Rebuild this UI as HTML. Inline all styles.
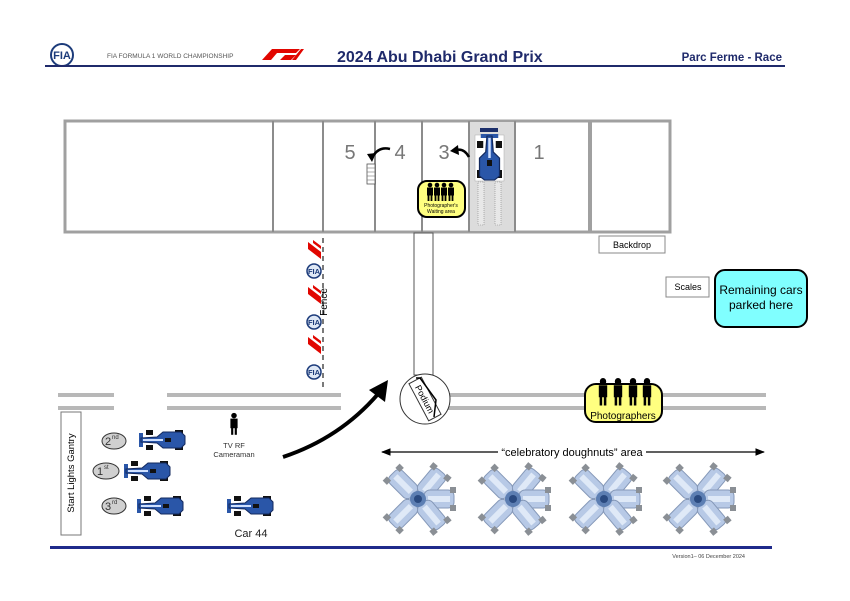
<!DOCTYPE html>
<html><head><meta charset="utf-8"><style>
html,body{margin:0;padding:0;background:#fff;width:850px;height:601px;overflow:hidden}
svg{display:block;font-family:"Liberation Sans",sans-serif}
</style></head><body>
<svg width="850" height="601" viewBox="0 0 850 601" xmlns="http://www.w3.org/2000/svg">
<defs>
<g id="car">
<rect x="-17" y="-10" width="7" height="5" fill="#111"/>
<rect x="-17" y="5" width="7" height="5" fill="#111"/>
<rect x="12" y="-10" width="8" height="5" fill="#111"/>
<rect x="12" y="5" width="8" height="5" fill="#111"/>
<rect x="-24" y="-7" width="4" height="14" fill="#2a56a8"/>
<path d="M-22,-2 L-6,-3 L0,-8 L18,-8 L22,-4 L22,4 L18,8 L0,8 L-6,3 L-22,2 Z" fill="#2a56a8" stroke="#13295e" stroke-width="1"/>
<rect x="-20" y="-1" width="20" height="2" fill="#cfe0ff"/>
<rect x="2" y="-2" width="6" height="4" fill="#111"/>
</g>
<g id="lcar">
<rect x="-4" y="-26" width="8" height="10" rx="2" fill="#8a949e"/>
<rect x="-9" y="-36" width="18" height="30" rx="6" fill="#b7c9e6" stroke="#8598b8" stroke-width="1"/>
<rect x="-3" y="-32" width="6" height="22" fill="#dfe9f7"/>
<rect x="-12" y="-38" width="6" height="6" fill="#8a8f95"/>
<rect x="6" y="-38" width="6" height="6" fill="#8a8f95"/>
</g>
<g id="dn">
<use href="#lcar" transform="rotate(-45)"/>
<use href="#lcar" transform="rotate(40)"/>
<use href="#lcar" transform="rotate(90)"/>
<use href="#lcar" transform="rotate(140)"/>
<use href="#lcar" transform="rotate(-135)"/>
<circle r="8" fill="#5d7fb3"/><circle r="4" fill="#2a4a80"/>
</g>
<g id="man"><circle cx="0" cy="-7" r="2.3" fill="#000"/><rect x="-3" y="-4.5" width="6" height="8" fill="#000"/><rect x="-2.4" y="3" width="1.8" height="6" fill="#000"/><rect x="0.6" y="3" width="1.8" height="6" fill="#000"/></g>
<g id="fia"><circle r="7" fill="#dfe8f5" stroke="#1c3b7a" stroke-width="1.5"/><text x="0" y="3" font-size="7.5" font-weight="bold" fill="#1c3b7a" text-anchor="middle">FIA</text></g>
<g id="f1"><path d="M-7,6 L3,-7 L10,-7 L0,6 Z M3,6 L9,-2 L12,-2 L6,6Z" fill="#e10600"/></g>
<marker id="ah" viewBox="0 0 10 10" refX="9" refY="5" markerWidth="8" markerHeight="8" orient="auto-start-reverse"><path d="M0,1 L10,5 L0,9 Z" fill="#000"/></marker>
</defs>

<!-- header -->
<circle cx="62" cy="55" r="11" fill="#fff" stroke="#1c3b7a" stroke-width="2"/>
<text x="62" y="59" font-size="11" font-weight="bold" fill="#1c3b7a" text-anchor="middle">FIA</text>
<text x="107" y="58" font-size="6.5" fill="#555">FIA FORMULA 1 WORLD CHAMPIONSHIP</text>
<path d="M262,60 L272,49 L300,49 L296,53 L277,53 L271,60 Z M280,60 L285,55 L296,55 L291,60Z M292,60 L301,49 L304,49 L296,60Z" fill="#e10600"/>
<text x="337" y="62" font-size="16" font-weight="bold" fill="#1f2a6b">2024 Abu Dhabi Grand Prix</text>
<text x="782" y="61" font-size="11.5" font-weight="bold" fill="#1f2a6b" text-anchor="end">Parc Ferme - Race</text>
<rect x="45" y="65" width="740" height="2" fill="#1f2a6b"/>

<!-- building -->
<rect x="65" y="121" width="605" height="111" fill="#fff" stroke="#a0a0a0" stroke-width="3"/>
<rect x="469" y="122" width="46" height="109" fill="#dcdcdc"/>
<g stroke="#8c8c8c" stroke-width="2">
<line x1="273" y1="121" x2="273" y2="232"/><line x1="323" y1="121" x2="323" y2="232"/>
<line x1="375" y1="121" x2="375" y2="232"/><line x1="422" y1="121" x2="422" y2="232"/>
<line x1="469" y1="121" x2="469" y2="232"/><line x1="515" y1="121" x2="515" y2="232"/>
</g>
<rect x="588" y="121" width="4" height="111" fill="#a0a0a0"/>
<g font-size="20" fill="#777" text-anchor="middle">
<text x="350" y="159">5</text><text x="400" y="159">4</text><text x="444" y="159">3</text><text x="539" y="159">1</text>
</g>
<path d="M390,149 Q378,146 372,158" stroke="#000" stroke-width="2.5" fill="none"/><path d="M367,154 L372,162 L376,153Z" fill="#000"/>
<path d="M469,157 Q464,148 456,150" stroke="#000" stroke-width="2.5" fill="none"/><path d="M458,145 L450,151 L459,155Z" fill="#000"/>
<rect x="367" y="164" width="8" height="20" fill="#fff" stroke="#555" stroke-width="0.8"/>
<g stroke="#777" stroke-width="0.6"><line x1="367" y1="168" x2="375" y2="168"/><line x1="367" y1="172" x2="375" y2="172"/><line x1="367" y1="176" x2="375" y2="176"/><line x1="367" y1="180" x2="375" y2="180"/></g>
<!-- car in bay 2 -->
<rect x="480" y="128" width="18" height="4" fill="#1c2f6b"/>
<rect x="475" y="135" width="29" height="46" fill="#fff" stroke="#aaa" stroke-width="0.5"/>
<g transform="translate(489.5,158) rotate(90) scale(1.0,1.25)"><use href="#car"/></g>
<rect x="478" y="182" width="6" height="43" fill="#e8e8e8" stroke="#888" stroke-width="0.6" stroke-dasharray="1,1"/>
<rect x="495" y="182" width="6" height="43" fill="#e8e8e8" stroke="#888" stroke-width="0.6" stroke-dasharray="1,1"/>
<!-- photographer waiting -->
<rect x="418" y="181" width="47" height="36" rx="9" fill="#ffff80" stroke="#000" stroke-width="2"/>
<use href="#man" x="430" y="192"/><use href="#man" x="437" y="192"/><use href="#man" x="444" y="192"/><use href="#man" x="451" y="192"/>
<text x="441" y="207" font-size="5" text-anchor="middle">Photographer's</text>
<text x="441" y="213" font-size="5" text-anchor="middle">Waiting area</text>

<rect x="599" y="236" width="66" height="17" fill="#fff" stroke="#888"/>
<text x="632" y="248" font-size="9" text-anchor="middle">Backdrop</text>
<rect x="666" y="277" width="43" height="20" fill="#fff" stroke="#888"/>
<text x="688" y="290" font-size="9" text-anchor="middle">Scales</text>
<rect x="715" y="270" width="92" height="57" rx="10" fill="#80ffff" stroke="#000" stroke-width="2"/>
<text x="761" y="294" font-size="12" text-anchor="middle">Remaining cars</text>
<text x="761" y="309" font-size="12" text-anchor="middle">parked here</text>

<!-- podium corridor -->
<rect x="414" y="233" width="19" height="142" fill="#fff" stroke="#555"/>

<!-- track lines -->
<g fill="#b8b8b8">
<rect x="58" y="393" width="56" height="4"/><rect x="58" y="406" width="56" height="4"/>
<rect x="167" y="393" width="174" height="4"/><rect x="167" y="406" width="174" height="4"/>
<rect x="443" y="393" width="323" height="4"/><rect x="443" y="406" width="323" height="4"/>
</g>
<circle cx="425" cy="399" r="25" fill="#fff" stroke="#333" stroke-width="1"/>
<g transform="translate(425,399) rotate(62)">
<rect x="-21" y="-7" width="42" height="14" fill="#fff" stroke="#333"/>
<text x="0" y="3.5" font-size="9" text-anchor="middle">Podium</text>
</g>
<path d="M416,378 L420,378 L436,400 L434,417" stroke="#000" stroke-width="1.5" fill="none"/>

<!-- fence -->
<line x1="323" y1="238" x2="323" y2="390" stroke="#333" stroke-width="1.3" stroke-dasharray="5,4"/>
<use href="#f1" transform="translate(315,252) rotate(-90)"/>
<use href="#fia" x="314" y="271"/>
<use href="#f1" transform="translate(315,297) rotate(-90)"/>
<use href="#fia" x="314" y="322"/>
<use href="#f1" transform="translate(315,347) rotate(-90)"/>
<use href="#fia" x="314" y="372"/>
<text x="327" y="302" font-size="10" text-anchor="middle" transform="rotate(-90 327 302)">Fence</text>

<!-- big arrow -->
<path d="M283,457 Q340,438 378,394" stroke="#000" stroke-width="4" fill="none"/>
<path d="M369,390 L388,380 L385,402 Z" fill="#000"/>

<!-- photographers -->
<rect x="585" y="384" width="77" height="38" rx="11" fill="#ffff80" stroke="#000" stroke-width="2"/>
<g transform="translate(603,392) scale(1.4,1.5)"><use href="#man"/></g>
<g transform="translate(618,392) scale(1.4,1.5)"><use href="#man"/></g>
<g transform="translate(633,392) scale(1.4,1.5)"><use href="#man"/></g>
<g transform="translate(647,392) scale(1.4,1.5)"><use href="#man"/></g>
<text x="623" y="419" font-size="10" text-anchor="middle">Photographers</text>

<!-- doughnuts -->
<line x1="382" y1="452" x2="498" y2="452" stroke="#000" stroke-width="1.2" marker-start="url(#ah)"/>
<line x1="646" y1="452" x2="764" y2="452" stroke="#000" stroke-width="1.2" marker-end="url(#ah)"/>
<text x="572" y="456" font-size="11" text-anchor="middle">“celebratory doughnuts” area</text>
<use href="#dn" x="418" y="499"/>
<use href="#dn" x="513" y="499"/>
<use href="#dn" x="604" y="499"/>
<use href="#dn" x="698" y="499"/>

<!-- start gantry -->
<rect x="61" y="412" width="20" height="123" fill="#fff" stroke="#777"/>
<text x="74" y="473" font-size="9.5" text-anchor="middle" transform="rotate(-90 74 473)">Start Lights Gantry</text>
<g font-size="11" fill="#333">
<ellipse cx="114" cy="441" rx="12" ry="8" fill="#d0d0d0" stroke="#333"/><text x="105" y="445">2</text><text x="112" y="439" font-size="6">nd</text>
<ellipse cx="106" cy="471" rx="13" ry="8" fill="#d0d0d0" stroke="#333"/><text x="97" y="475">1</text><text x="104" y="469" font-size="6">st</text>
<ellipse cx="114" cy="506" rx="12" ry="8" fill="#d0d0d0" stroke="#333"/><text x="105" y="510">3</text><text x="112" y="504" font-size="6">rd</text>
</g>
<use href="#car" x="163" y="440"/>
<use href="#car" x="148" y="471"/>
<use href="#car" x="161" y="506"/>
<use href="#car" x="251" y="506"/>
<text x="251" y="537" font-size="11" text-anchor="middle" fill="#222">Car 44</text>
<g transform="translate(234,424) scale(1.2)"><use href="#man"/></g>
<text x="234" y="448" font-size="7.5" text-anchor="middle" fill="#333">TV RF</text>
<text x="234" y="457" font-size="7.5" text-anchor="middle" fill="#333">Cameraman</text>

<!-- footer -->
<rect x="50" y="546" width="722" height="3" fill="#1f2a8b"/>
<text x="745" y="558" font-size="5.5" fill="#444" text-anchor="end">Version1– 06 December 2024</text>
</svg>
</body></html>
